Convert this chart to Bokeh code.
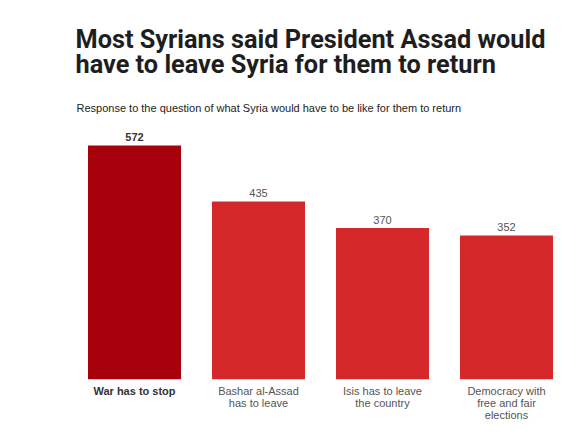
from bokeh.plotting import figure
from bokeh.models import ColumnDataSource, Range1d, Title
from bokeh.core.properties import value
from bokeh.embed import file_html
from bokeh.resources import INLINE

# data
categories = ["War has to stop", "Bashar al-Assad has to leave",
              "Isis has to leave the country", "Democracy with free and fair elections"]
labels = ["War has to stop", "Bashar al-Assad\nhas to leave",
          "Isis has to leave\nthe country", "Democracy with\nfree and fair\nelections"]
counts = [572, 435, 370, 352]

bar_colors = ["#a8000b", "#d4282b", "#d4282b", "#d4282b"]
weights = ["bold", "normal", "normal", "normal"]
text_colors = ["#333333", "#555555", "#555555", "#555555"]

src = ColumnDataSource(dict(cat=categories, lab=labels, n=counts, txt=[str(c) for c in counts],
                            col=bar_colors, fw=weights, tc=text_colors, zero=[0] * len(counts)))

p = figure(x_range=categories, y_range=Range1d(-108, 633), width=568, height=423,
           output_backend="svg", toolbar_location=None,
           min_border_left=72, min_border_right=0, min_border_bottom=0, min_border_top=120)
p.x_range.range_padding = 0

p.vbar(x="cat", top="n", width=0.75, source=src, fill_color="col", line_color=None)

# values above bars
p.text(x="cat", y="n", text="txt", source=src, text_align="center", text_baseline="bottom",
       y_offset=-4, text_font=value("Liberation Sans"), text_font_size="11px",
       text_font_style="fw", text_color="tc")

# category labels below bars
p.text(x="cat", y="zero", text="lab", source=src, text_align="center", text_baseline="top",
       y_offset=6, text_font=value("Liberation Sans"), text_font_size="11px",
       text_font_style="fw", text_color="tc", text_line_height=0.98)

sub = Title(text="Response to the question of what Syria would have to be like for them to return",
            text_font="Liberation Sans", text_font_size="11px", text_font_style="normal",
            text_color="#222222", offset=4, standoff=14)
p.add_layout(sub, "above")
t = Title(text="Most Syrians said President Assad would\nhave to leave Syria for them to return",
          text_font="Roboto", text_font_size="25.3px", text_font_style="bold",
          text_color="#1e1e1e", offset=-1, standoff=19, text_line_height=0.87, padding=4)
p.add_layout(t, "above")

p.xaxis.visible = False
p.yaxis.visible = False
p.xgrid.visible = False
p.ygrid.visible = False
p.outline_line_color = None

open("out.html", "w").write(file_html(p, INLINE))
